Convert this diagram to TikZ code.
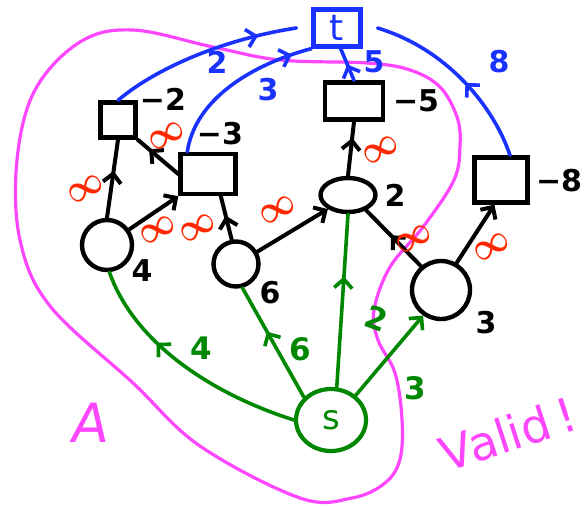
\documentclass[tikz,border=0pt]{standalone}
\usepackage{fontspec}
\setmainfont{DejaVu Sans}
\usetikzlibrary{arrows.meta,shapes.geometric,decorations.markings}
\definecolor{pinkc}{RGB}{255,70,255}
\definecolor{bluec}{RGB}{25,50,255}
\definecolor{greenc}{RGB}{0,135,0}
\definecolor{redc}{RGB}{255,40,0}
\tikzset{
  tipA/.tip={Straight Barb[length=9pt,width=18pt]},
  mid/.style={postaction={decorate},decoration={markings,mark=at position #1 with {\arrow{tipA}}}},
  blk/.style={draw=black,line width=4pt,line cap=round},
  bl/.style={draw=bluec,line width=3.6pt,line cap=round},
  gr/.style={draw=greenc,line width=3.6pt,line cap=round},
  sq/.style={draw=black,line width=4.4pt,rectangle,inner sep=0pt},
  crc/.style={draw=black,line width=4.4pt,circle,inner sep=0pt},
  ell/.style={draw=black,line width=4.4pt,ellipse,inner sep=0pt},
  tbox/.style={draw=bluec,line width=4.2pt,rectangle,inner sep=0pt,text=bluec,font=\fontsize{36}{36}\selectfont},
  snode/.style={draw=greenc,line width=4.2pt,ellipse,inner sep=0pt,text=greenc,font=\fontsize{34}{34}\selectfont},
  lbl/.style={font=\fontsize{30}{30}\selectfont\bfseries,inner sep=0pt},
  blbl/.style={font=\fontsize{30}{30}\selectfont\bfseries,text=bluec,inner sep=0pt},
  glbl/.style={font=\fontsize{31}{31}\selectfont\bfseries,text=greenc,inner sep=0pt},
  inf/.style={font=\fontsize{24}{24}\selectfont\boldmath,text=redc,rotate=28,inner sep=0pt},
  plbl/.style={text=pinkc,inner sep=0pt},
}
\newcommand{\infsym}{\scalebox{1.3}[1.6]{$\infty$}}
\begin{document}
\begin{tikzpicture}[x=1pt,y=-1pt]
\useasboundingbox (0,0) rectangle (585,506);
% pink closed curve
\draw[pinkc,line width=3.2pt] plot[smooth cycle,tension=0.6] coordinates {
 (133,30) (213,47) (280,60) (367,63) (410,70) (440,87) (457,117) (460,145)
 (454,180) (423,227) (390,267) (374,310) (378,340) (395,373) (402,419)
 (400,459) (385,483) (352,498) (300,498) (200,446) (133,383) (50,306)
 (20,240) (17,160) (35,90) (80,42)};
% nodes
\node[sq, minimum width=35pt, minimum height=35pt] (b2) at (118,120) {};
\node[sq, minimum width=55pt, minimum height=40pt] (b3) at (208,174) {};
\node[sq, minimum width=58pt, minimum height=37pt] (b5) at (354,101) {};
\node[sq, minimum width=53pt, minimum height=45pt] (b8) at (501,180) {};
\node[tbox, minimum width=47pt, minimum height=37pt] (t) at (337,28) {t};
\node[crc, minimum size=50pt] (c4) at (107,245) {};
\node[crc, minimum size=45pt] (c6) at (236,264) {};
\node[ell, minimum width=55pt, minimum height=34pt] (e2) at (348,195) {};
\node[crc, minimum size=58pt] (c3) at (441,290) {};
\node[snode, minimum width=70pt, minimum height=62pt] (s) at (331,420) {s};
% black labels
\node[lbl] (l2) at (163,99) {−2};
\node[lbl] (l3) at (220,134) {−3};
\node[lbl] (l5) at (416,101) {−5};
\node[lbl] (l8) at (559,181) {−8};
\node[lbl] (n4) at (142,271) {4};
\node[lbl] (n6) at (270,293) {6};
\node[lbl] (n2) at (395,195) {2};
\node[lbl] (n3) at (486,323) {3};
% black edges
\draw[blk, mid=0.6] (c4.north) -- (b2.south);
\draw[blk, mid=0.72] (b3.west) -- (b2.south east);
\draw[blk, -{tipA}] (c4.35) -- (b3.south west);
\draw[blk, mid=0.55] (c6.100) -- (b3.-60);
\draw[blk, -{tipA}] (c6.30) -- (e2.215);
\draw[blk, mid=0.7] (e2.north) -- (b5.south);
\draw[blk, mid=0.55] (c3.130) -- (e2.-40);
\draw[blk, -{tipA}] (c3.60) -- (b8.-105);
% red infinity labels
\node[inf] (i1) at (86,189) {\infsym};
\node[inf] (i2) at (167,136) {\infsym};
\node[inf] (i3) at (158,230) {\infsym};
\node[inf] (i4) at (198,228) {\infsym};
\node[inf] (i5) at (278,210) {\infsym};
\node[inf] (i6) at (381,150) {\infsym};
\node[inf] (i7) at (414,239) {\infsym};
\node[inf] (i8) at (492,247) {\infsym};
% blue edges
\draw[bl, mid=0.8] (b2.north) .. controls (160,65) and (230,38) .. ([xshift=-15pt]t.west);
\draw[bl, mid=0.88] ([xshift=9pt]b3.north west) .. controls (195,100) and (250,65) .. (t.south west);
\draw[bl, mid=0.5] (b5.north) -- (t.-80);
\draw[bl, mid=0.45] (b8.70) .. controls (495,110) and (450,50) .. ([xshift=15pt]t.east);
\node[blbl] (w2) at (217,62) {2};
\node[blbl] (w3) at (268,90) {3};
\node[blbl] (w5) at (374,62) {5};
\node[blbl] (w8) at (499,62) {8};
% green edges
\draw[gr, mid=0.65] (s.west) .. controls (215,395) and (135,345) .. (c4.-85);
\draw[gr, mid=0.6] (s.140) -- (c6.-75);
\draw[gr, mid=0.64] (s.80) -- (e2.south);
\draw[gr, -{tipA}] (s.45) -- (c3.-125);
\node[glbl] (g4) at (201,348) {4};
\node[glbl] (g6) at (300,349) {6};
\node[glbl, rotate=-20] (g2) at (377,318) {2};
\node[glbl] (g3) at (415,388) {3};
% pink texts
\node[plbl, font=\fontsize{54}{54}\selectfont, xslant=0.15] (tA) at (91,423) {A};
\node[plbl, font=\fontsize{47}{47}\selectfont, rotate=18] (tV) at (508,434) {Valid\,!};
\end{tikzpicture}
\end{document}
